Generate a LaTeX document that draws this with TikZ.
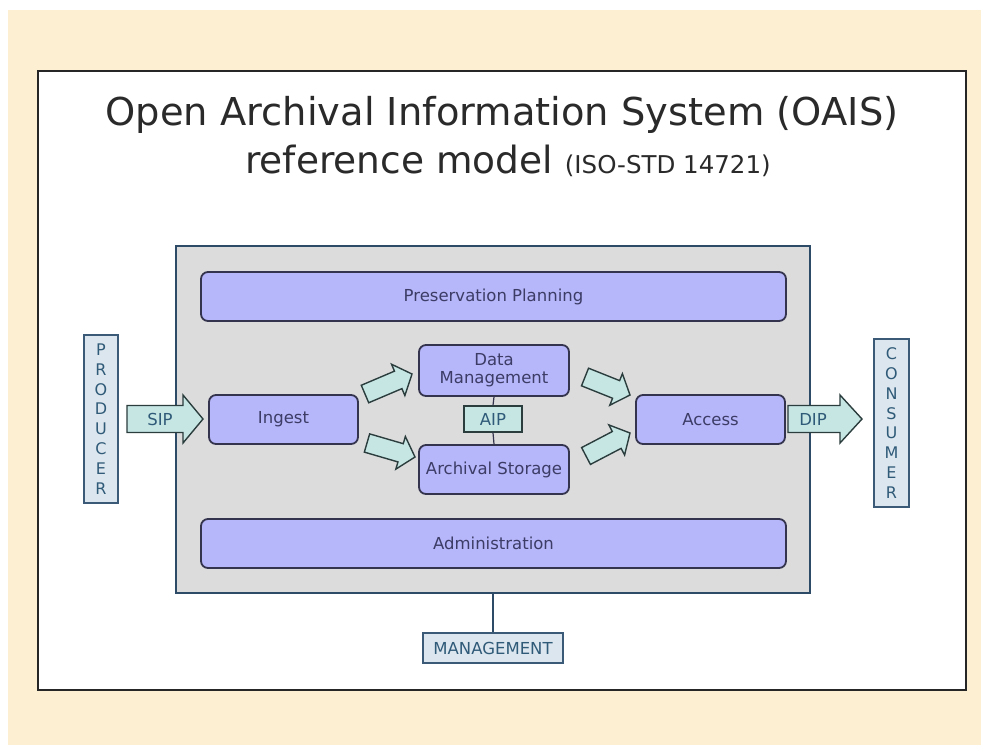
\documentclass[tikz,border=0pt]{standalone}
\usepackage{fontspec}
\setmainfont{DejaVu Sans}
\usetikzlibrary{calc}
\definecolor{cream}{HTML}{FDF0D2}
\definecolor{grayfill}{HTML}{DCDCDC}
\definecolor{grayedge}{HTML}{2D4A66}
\definecolor{lav}{HTML}{B6B6FA}
\definecolor{lavedge}{HTML}{34344E}
\definecolor{lavtext}{HTML}{3C3C66}
\definecolor{cyanfill}{HTML}{C6E6E4}
\definecolor{cyanedge}{HTML}{2B3D3D}
\definecolor{bluetext}{HTML}{2F5A78}
\definecolor{actfill}{HTML}{DCE6EE}
\definecolor{actedge}{HTML}{3A5A78}
\definecolor{titlecol}{HTML}{2A2A2A}
\newcommand\fatarrow[6]{%
  \coordinate (#6hb) at ($(#2)!#5!(#1)$);
  \draw[fatarr] ($(#1)!#3!90:(#2)$) -- ($(#6hb)!#3!-90:(#1)$) -- ($(#6hb)!#4!-90:(#1)$)
    -- (#2) -- ($(#6hb)!#4!90:(#1)$) -- ($(#6hb)!#3!90:(#1)$) -- ($(#1)!#3!-90:(#2)$) -- cycle;}
\begin{document}
\begin{tikzpicture}[x=1pt,y=-1pt,
  func/.style={draw=lavedge, fill=lav, line width=1.8pt, rounded corners=7pt, text=lavtext,
    font=\fontsize{16.5}{18}\selectfont, align=center, inner sep=0pt},
  fatarr/.style={draw=cyanedge, fill=cyanfill, line width=1.4pt, line join=miter},
  actor/.style={draw=actedge, fill=actfill, line width=1.6pt, text=bluetext, inner sep=0pt,
    font=\fontsize{16}{19.8}\selectfont, align=center},
  lbl/.style={text=bluetext, font=\fontsize{16.5}{18}\selectfont, inner sep=0pt},
  link/.style={draw=lavedge, line width=1.2pt}]
\useasboundingbox (0,0) rectangle (981,745);
\fill[white] (0,0) rectangle (981,745);
\fill[cream] (8,10) rectangle (981,745);
\draw[line width=2.4pt, draw=black!85, fill=white] (38,71) rectangle (966,690);
\node[text=titlecol, font=\fontsize{38.4}{44}\selectfont, inner sep=0pt] (title1) at (502,115) {Open Archival Information System (OAIS)};
\node[text=titlecol, font=\fontsize{37.5}{44}\selectfont, inner sep=0pt, anchor=base] (title2) at (508,173) {reference model {\fontsize{24.5}{28}\selectfont (ISO-STD 14721)}};
% OAIS box
\node[draw=grayedge, fill=grayfill, line width=2.2pt, minimum width=634pt, minimum height=347pt, inner sep=0pt] (oais) at (493,419.5) {};
\node[func, minimum width=585pt, minimum height=49pt] (pp) at (493.5,296.5) {Preservation Planning};
\node[func, minimum width=149pt, minimum height=49pt] (ingest) at (283.5,419.5) {Ingest};
\node[func, minimum width=150pt, minimum height=51pt] (dm) at (494,370.5) {Data\\Management};
\node[func, minimum width=150pt, minimum height=49pt] (as) at (494,469.5) {Archival Storage};
\node[func, minimum width=149pt, minimum height=49pt] (access) at (710.5,419.5) {Access};
\node[func, minimum width=585pt, minimum height=49pt] (admin) at (493.5,543.5) {Administration};
\node[draw=cyanedge, fill=cyanfill, line width=1.4pt, minimum width=58pt, minimum height=26pt, inner sep=0pt, lbl] (aip) at (493,419) {AIP};
\draw[link] (dm.south) -- (aip.north);
\draw[link] (aip.south) -- (as.north);
% actors
\node[actor, minimum width=34pt, minimum height=168pt] (producer) at (101,419) {P\\R\\O\\D\\U\\C\\E\\R};
\node[actor, minimum width=35pt, minimum height=168pt] (consumer) at (891.5,423) {C\\O\\N\\S\\U\\M\\E\\R};
\node[actor, font=\fontsize{16.5}{19}\selectfont, minimum width=140pt, minimum height=30pt] (mgmt) at (493,648) {MANAGEMENT};
\draw[draw=grayedge, line width=2.2pt] (oais.south) -- (mgmt.north);
% SIP / DIP
\coordinate (sipS) at (127,419);
\coordinate (sipT) at (203,419);
\fatarrow{sipS}{sipT}{13.5pt}{24pt}{20pt}{sip}
\node[lbl] (siplbl) at (160,419) {SIP};
\coordinate (dipS) at (788,419);
\coordinate (dipT) at (862,419);
\fatarrow{dipS}{dipT}{13.5pt}{24pt}{22pt}{dip}
\node[lbl] (diplbl) at (813,419) {DIP};
% internal arrows
\coordinate (a1s) at (365,394);
\coordinate (a1t) at (412,374);
\fatarrow{a1s}{a1t}{9.5pt}{17pt}{15pt}{aa}
\coordinate (a2s) at (367,443);
\coordinate (a2t) at (415,457);
\fatarrow{a2s}{a2t}{9.5pt}{17pt}{15pt}{ab}
\coordinate (a3s) at (585,377);
\coordinate (a3t) at (630,395);
\fatarrow{a3s}{a3t}{9.5pt}{17pt}{15pt}{ac}
\coordinate (a4s) at (586,456);
\coordinate (a4t) at (630,433);
\fatarrow{a4s}{a4t}{9.5pt}{17pt}{15pt}{ad}
\end{tikzpicture}
\end{document}
